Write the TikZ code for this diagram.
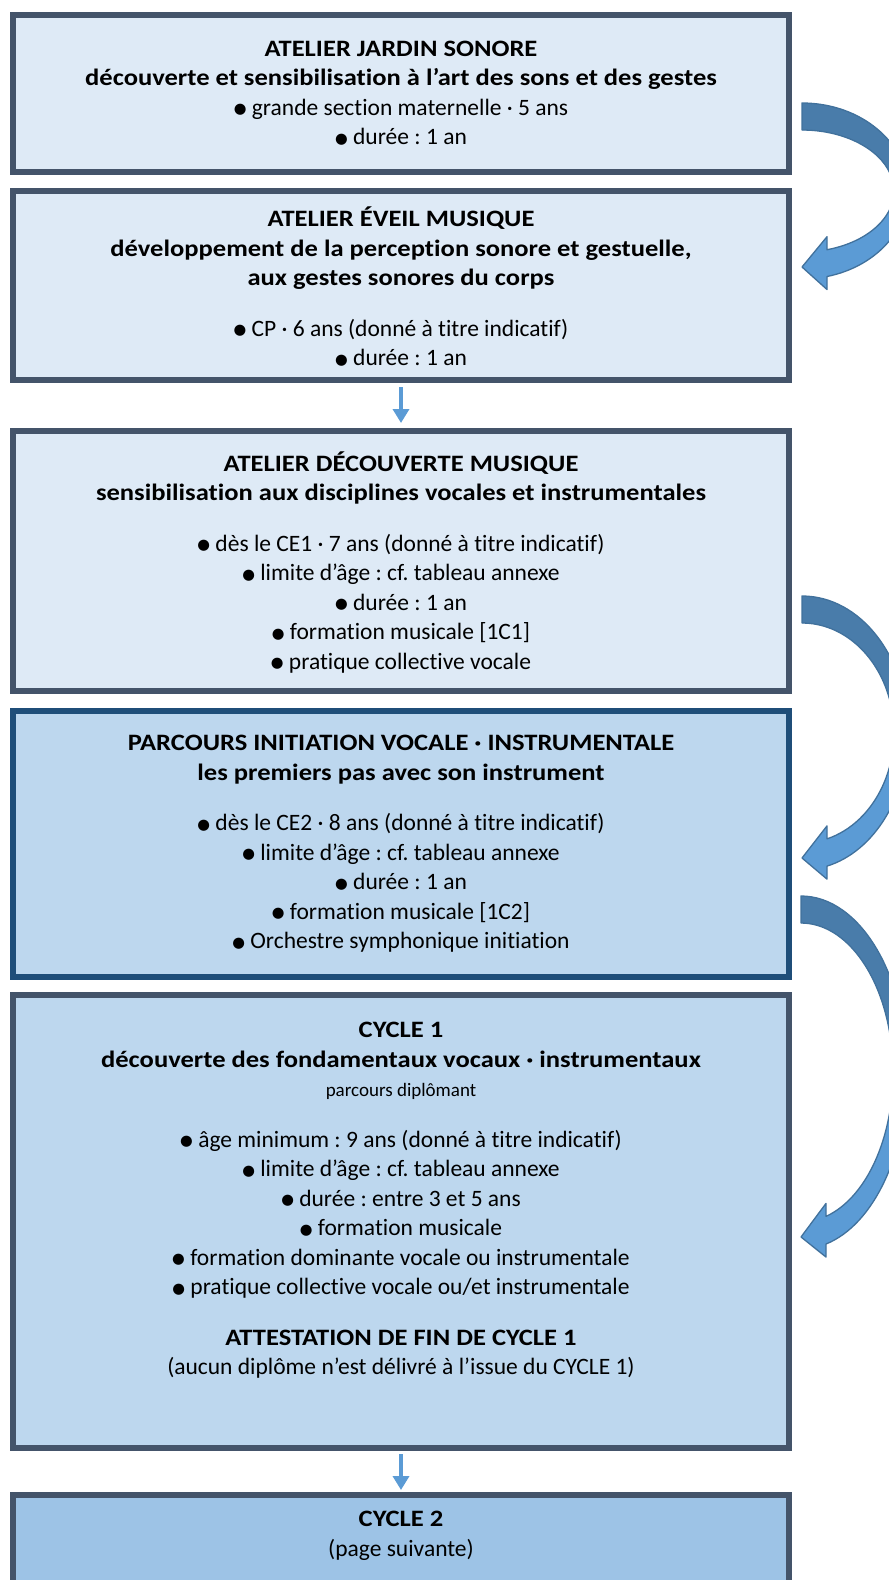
\documentclass[tikz,border=0pt]{standalone}
\usepackage{fontspec}
\setmainfont[Ligatures=NoCommon, BoldFeatures={FakeStretch=1.13}]{Carlito}
\newfontfamily\dotfont[Scale=0.62]{DejaVu Sans}
\usetikzlibrary{arrows.meta}

\definecolor{paleblue}{HTML}{DEEAF6}
\definecolor{midblue}{HTML}{BDD7EE}
\definecolor{deepblue}{HTML}{9DC3E6}
\definecolor{slate}{HTML}{44546A}
\definecolor{navy}{HTML}{1F4E79}
\definecolor{arrowblue}{HTML}{5B9BD5}
\definecolor{arrowdark}{HTML}{497CAA}
\definecolor{arrowline}{HTML}{41719C}

\newcommand{\flowfont}{\fontsize{23.5}{29.5}\selectfont\frenchspacing}
\newcommand{\bul}{\raisebox{1.5pt}{\dotfont ●}\ }

\tikzset{
  bendlight/.style={fill=arrowblue},
  benddark/.style={fill=arrowdark},
  bendline/.style={draw=arrowline, line width=1.3pt, line join=round}
}

% curved block arrow: #1 x of tail, #2 y of centre, #3 outer and #4 inner vertical radius
\newcommand{\bendarrow}[4]{%
  \fill[bendlight] (#1,{-(#2-#3)}) arc[start angle=90, end angle=-76.36, x radius=106pt, y radius=#3pt]
    -- ++(0,-13) -- (#1,{-(#2+#3-12)}) -- ({#1+25},{-(#2+0.9624*#4-13)}) -- ++(0,-13)
    arc[start angle=-74.23, end angle=90, x radius=92pt, y radius=#4pt] -- cycle;
  \fill[benddark] (#1,{-(#2-#3)}) arc[start angle=90, end angle=0, x radius=106pt, y radius=#3pt]
    -- ({#1+92},{-#2}) arc[start angle=0, end angle=90, x radius=92pt, y radius=#4pt] -- cycle;
  \draw[bendline] (#1,{-(#2-#3)}) arc[start angle=90, end angle=-76.36, x radius=106pt, y radius=#3pt]
    -- ++(0,-13) -- (#1,{-(#2+#3-12)}) -- ({#1+25},{-(#2+0.9624*#4-13)}) -- ++(0,-13)
    arc[start angle=-74.23, end angle=90, x radius=92pt, y radius=#4pt] -- cycle;
}

\begin{document}
\begin{tikzpicture}[x=1pt, y=1pt,
    box/.style={draw=slate, line width=6pt, fill=paleblue, minimum width=776pt, inner sep=0pt},
    txt/.style={anchor=north, inner sep=0pt, align=center, font=\flowfont},
    link/.style={draw=arrowblue, line width=4pt, -{Triangle[width=16pt,length=14pt]}}]

    \useasboundingbox (0,0) rectangle (889,-1580);
    \clip (0,0) rectangle (889,-1580);

    \node[box, minimum height=157pt] (jardin) at (401,-93.5) {};
    \node[box, minimum height=189pt] (eveil) at (401,-285.5) {};
    \node[box, minimum height=260pt] (decouverte) at (401,-561) {};
    \node[box, draw=navy, fill=midblue, minimum height=266pt] (initiation) at (401,-844) {};
    \node[box, fill=midblue, minimum height=453pt] (cycleun) at (401,-1221.5) {};
    \node[box, fill=deepblue, minimum height=125pt] (cycledeux) at (401,-1557.5) {};

    \node[txt] (jardintxt) at (401,-35.5) {\strut\textbf{ATELIER JARDIN SONORE}\\
      \textbf{découverte et sensibilisation à l’art des sons et des gestes}\\
      \bul grande section maternelle · 5 ans\\
      \bul durée : 1 an};
    \node[txt] (eveiltxt) at (401,-205.7) {\strut\textbf{ATELIER ÉVEIL MUSIQUE}\\
      \textbf{développement de la perception sonore et gestuelle,}\\
      \textbf{aux gestes sonores du corps}\\[21pt]
      \bul CP · 6 ans (donné à titre indicatif)\\
      \bul durée : 1 an};
    \node[txt] (decouvertetxt) at (401,-450.6) {\strut\textbf{ATELIER DÉCOUVERTE MUSIQUE}\\
      \textbf{sensibilisation aux disciplines vocales et instrumentales}\\[21pt]
      \bul dès le CE1 · 7 ans (donné à titre indicatif)\\
      \bul limite d’âge : cf. tableau annexe\\
      \bul durée : 1 an\\
      \bul formation musicale [1C1]\\
      \bul pratique collective vocale};
    \node[txt] (initiationtxt) at (401,-729.8) {\strut\textbf{PARCOURS INITIATION VOCALE · INSTRUMENTALE}\\
      \textbf{les premiers pas avec son instrument}\\[21pt]
      \bul dès le CE2 · 8 ans (donné à titre indicatif)\\
      \bul limite d’âge : cf. tableau annexe\\
      \bul durée : 1 an\\
      \bul formation musicale [1C2]\\
      \bul Orchestre symphonique initiation};
    \node[txt] (cycleuntxt) at (401,-1017) {\strut\textbf{CYCLE 1}\\
      \textbf{découverte des fondamentaux vocaux · instrumentaux}\\
      {\fontsize{19}{29.5}\selectfont parcours diplômant}\\[21pt]
      \bul âge minimum : 9 ans (donné à titre indicatif)\\
      \bul limite d’âge : cf. tableau annexe\\
      \bul durée : entre 3 et 5 ans\\
      \bul formation musicale\\
      \bul formation dominante vocale ou instrumentale\\
      \bul pratique collective vocale ou/et instrumentale\\[21pt]
      \textbf{ATTESTATION DE FIN DE CYCLE 1}\\
      (aucun diplôme n’est délivré à l’issue du CYCLE 1)};
    \node[txt] (cycledeuxtxt) at (401,-1506) {\strut\textbf{CYCLE 2}\\
      (page suivante)};

    \bendarrow{802}{191}{88}{61}
    \bendarrow{802}{733}{137}{110}
    \bendarrow{801}{1072.5}{176.5}{149.5}

    \draw[link, shorten <=4pt, shorten >=5pt] (eveil) -- (decouverte);
    \draw[link, shorten <=3pt, shorten >=2pt] (cycleun) -- (cycledeux);

\end{tikzpicture}
\end{document}
